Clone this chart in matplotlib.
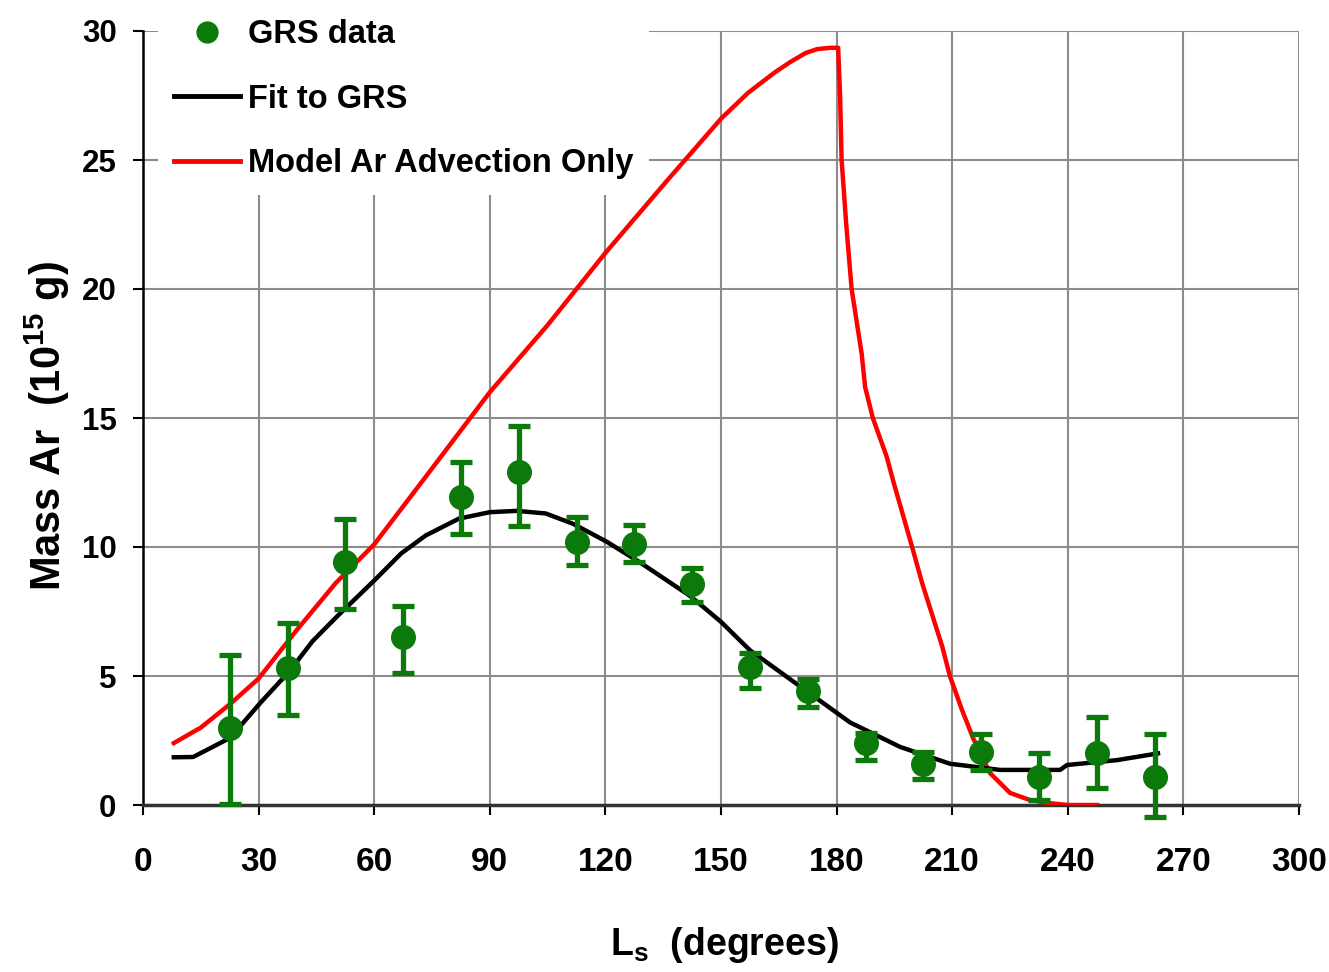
import matplotlib
matplotlib.use("Agg")
import matplotlib.pyplot as plt
from matplotlib.lines import Line2D
import numpy as np

plt.rcParams['font.family'] = ['Liberation Sans', 'DejaVu Sans']
plt.rcParams['font.weight'] = 'bold'
plt.rcParams['mathtext.fontset'] = 'custom'
plt.rcParams['mathtext.rm'] = 'Liberation Sans:bold'
plt.rcParams['mathtext.bf'] = 'Liberation Sans:bold'
plt.rcParams['mathtext.default'] = 'bf'

# ---- GRS data points with error bars ----
ls_data = [22.5, 37.5, 52.5, 67.5, 82.5, 97.5, 112.5, 127.5, 142.5, 157.5,
           172.5, 187.5, 202.5, 217.5, 232.5, 247.5, 262.5]
mass_data = [3.0, 5.3, 9.4, 6.5, 11.95, 12.9, 10.2, 10.1, 8.55, 5.35,
             4.4, 2.4, 1.6, 2.05, 1.1, 2.0, 1.1]
err_high = [5.8, 7.05, 11.1, 7.7, 13.3, 14.7, 11.15, 10.85, 9.2, 5.9,
            4.9, 2.8, 2.05, 2.75, 2.0, 3.4, 2.75]
err_low = [0.05, 3.5, 7.6, 5.1, 10.5, 10.8, 9.3, 9.4, 7.85, 4.55,
           3.8, 1.75, 1.0, 1.35, 0.2, 0.65, -0.45]

# ---- Fit to GRS ----
fit_ls = [8, 13, 22.6, 30.4, 38.1, 44, 50.3, 60, 67, 73.4, 82, 90, 97,
          104.5, 111.6, 120.4, 129, 142, 150, 157.5, 170.5, 183.5, 196.5,
          209.4, 222.4, 238, 239.8, 252.8, 263.4]
fit_mass = [1.85, 1.86, 2.6, 3.95, 5.2, 6.35, 7.3, 8.7, 9.75, 10.45, 11.1,
            11.35, 11.4, 11.3, 10.9, 10.2, 9.4, 8.1, 7.1, 6.0, 4.6, 3.2,
            2.25, 1.6, 1.36, 1.36, 1.55, 1.74, 2.0]

# ---- Model Ar Advection Only ----
model_ls = [8, 15, 22.5, 30, 40, 50, 60, 73, 90, 105, 120, 136, 150, 157,
            164, 168, 172, 175, 178.5, 180.4, 180.9, 181.3, 182.5, 183.9,
            186.5, 187.4, 189.4, 193, 194.8, 199.6, 202.2, 207.4, 209.4,
            212.5, 215.4, 219.8, 225, 230, 234.6, 240, 247.6]
model_mass = [2.4, 3.0, 3.9, 4.9, 6.8, 8.6, 10.1, 12.65, 16.0, 18.6, 21.4,
              24.2, 26.6, 27.6, 28.4, 28.8, 29.15, 29.3, 29.35, 29.35, 27.5,
              25.0, 22.5, 20.0, 17.5, 16.2, 15.0, 13.5, 12.5, 10.0, 8.6,
              6.15, 5.0, 3.7, 2.6, 1.24, 0.47, 0.2, 0.08, 0.0, 0.0]

x_ticks = [0, 30, 60, 90, 120, 150, 180, 210, 240, 270, 300]
y_ticks = [0, 5, 10, 15, 20, 25, 30]

green = '#0b7a0b'
red = '#ff0000'

fig = plt.figure(figsize=(13.29, 9.72), dpi=100)
ax = fig.add_axes([143/1329, 1-805/972, 1156/1329, 774/972])

ax.plot(model_ls, model_mass, color=red, lw=3.2, zorder=3)
ax.plot(fit_ls, fit_mass, color='black', lw=3.2, zorder=3)

mass_arr = np.array(mass_data)
yerr = [mass_arr - np.array(err_low), np.array(err_high) - mass_arr]
eb = ax.errorbar(ls_data, mass_data, yerr=yerr, fmt='o', color=green, ms=17,
                 elinewidth=3.8, capsize=8, capthick=3.8, zorder=4)
for art in eb.lines[1] + eb.lines[2]:
    art.set_clip_on(False)
eb.lines[0].set_clip_on(False)

ax.set_xlim(0, 300)
ax.set_ylim(0, 30)
ax.set_xticks(x_ticks)
ax.set_yticks(y_ticks)
ax.grid(True, color='#8c8c8c', lw=1.5, zorder=0)
ax.set_axisbelow(True)
for s in ['top', 'right']:
    ax.spines[s].set_visible(False)
ax.spines['left'].set_linewidth(1.8)
ax.spines['bottom'].set_linewidth(2.5)
ax.spines['bottom'].set_color('#333333')
ax.tick_params(axis='both', direction='out', length=7, width=1.5)
ax.tick_params(axis='x', labelsize=24, pad=23)
ax.tick_params(axis='y', labelsize=22.5, pad=12)
for lab in ax.get_xticklabels() + ax.get_yticklabels():
    lab.set_fontweight('bold')

ax.set_ylabel(r'Mass Ar  (10$^{15}$ g)', fontsize=30, fontweight='bold',
              va='center')
ax.yaxis.set_label_coords(-0.083, 0.49)
ax.set_xlabel(r'L$_{s}$  (degrees)', fontsize=27, fontweight='bold',
              va='center')
ax.xaxis.set_label_coords(0.503, -0.181)

handles = [
    Line2D([], [], color=green, marker='o', ls='none', ms=15),
    Line2D([], [], color='black', lw=3.5),
    Line2D([], [], color=red, lw=3.5),
]
labels = ['GRS data', 'Fit to GRS', 'Model Ar Advection Only']
leg = ax.legend(handles, labels, loc='upper left',
                bbox_to_anchor=(0.013, 1.036),
                prop={'weight': 'bold', 'size': 23.5},
                frameon=True, facecolor='white', edgecolor='none',
                framealpha=1.0, fancybox=False, handlelength=2.0,
                handletextpad=0.25, labelspacing=1.02, borderpad=0.5,
                borderaxespad=0)
leg.set_zorder(10)

fig.savefig('out.png', dpi=100, facecolor='white')
